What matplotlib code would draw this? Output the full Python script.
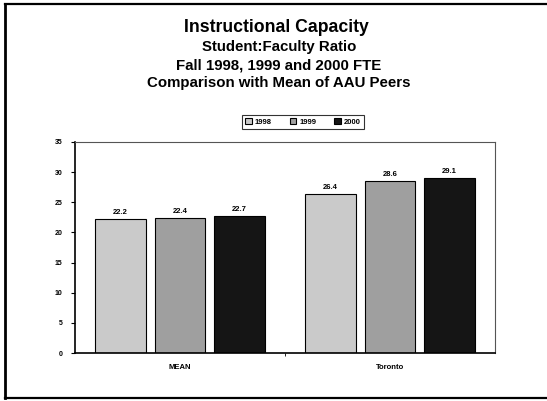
import matplotlib
matplotlib.use("Agg")
import matplotlib.pyplot as plt
import numpy as np
from matplotlib.lines import Line2D

plt.rcParams["font.family"] = ["Liberation Sans", "DejaVu Sans"]
plt.rcParams["font.weight"] = "bold"

categories = ["MEAN", "Toronto"]
years = ["1998", "1999", "2000"]
ratio_1998 = [22.2, 26.4]
ratio_1999 = [22.4, 28.6]
ratio_2000 = [22.7, 29.1]
y_ticks = [0, 5, 10, 15, 20, 25, 30, 35]

series = [ratio_1998, ratio_1999, ratio_2000]
colors = ["#cacaca", "#9f9f9f", "#151515"]

fig = plt.figure(figsize=(5.47, 4.01), dpi=100)
fig.patch.set_facecolor("white")

# outer frame: left, top, bottom (right edge is cut off in the scan)
W, H = 547, 401
for xs, ys, lw in [([5, 5], [4, 398], 2.0),
                   ([5, 547], [4, 4], 1.6),
                   ([5, 547], [398, 398], 1.6)]:
    fig.lines.append(Line2D([v / W for v in xs], [1 - v / H for v in ys],
                            transform=fig.transFigure, color="black", linewidth=lw))

fig.text(276 / W, 1 - 28 / H, "Instructional Capacity", ha="center", va="center", fontsize=12.7)
fig.text(279 / W, 1 - 47 / H, "Student:Faculty Ratio", ha="center", va="center", fontsize=10.8)
fig.text(279 / W, 1 - 65 / H, "Fall 1998, 1999 and 2000 FTE", ha="center", va="center", fontsize=10.8)
fig.text(279 / W, 1 - 83 / H, "Comparison with Mean of AAU Peers", ha="center", va="center", fontsize=10.8)

ax = fig.add_axes([75 / W, 48 / H, 420 / W, 211 / H])

x = np.arange(len(categories))
width = 0.24
step = 0.284
bars = []
for i, (vals, col, yr) in enumerate(zip(series, colors, years)):
    b = ax.bar(x + (i - 1) * step, vals, width, color=col, edgecolor="black",
               linewidth=0.8, label=yr)
    bars.append(b)
    for xi, v in zip(x + (i - 1) * step, vals):
        ax.text(xi, v + 0.5, f"{v:.1f}", ha="center", va="bottom", fontsize=5.5)

ax.set_xlim(-0.5, 1.5)
ax.set_ylim(0, 35)
ax.set_yticks(y_ticks)
ax.set_yticklabels([str(t) for t in y_ticks], fontsize=5)
ax.set_xticks(x)
ax.set_xticklabels(categories, fontsize=5.5)
ax.set_xticks([0.5], minor=True)
ax.tick_params(axis="x", which="major", length=0, pad=8)
ax.tick_params(axis="x", which="minor", length=2, width=0.6, direction="out")
ax.tick_params(axis="y", length=3, width=0.8, direction="out", pad=6)

for side in ["left", "bottom"]:
    ax.spines[side].set_linewidth(1.2)
    ax.spines[side].set_color("black")
for side in ["top", "right"]:
    ax.spines[side].set_linewidth(0.8)
    ax.spines[side].set_color("#555555")

leg = fig.legend(handles=bars, labels=years, loc="center", bbox_to_anchor=(303 / W, 1 - 122 / H),
                 ncol=3, fontsize=5.5, frameon=True, fancybox=False, edgecolor="black",
                 handlelength=0.8, handleheight=0.8, handletextpad=0.4, columnspacing=2.4,
                 borderpad=0.45)
leg.get_frame().set_linewidth(0.8)

fig.savefig("out.png", dpi=100)
